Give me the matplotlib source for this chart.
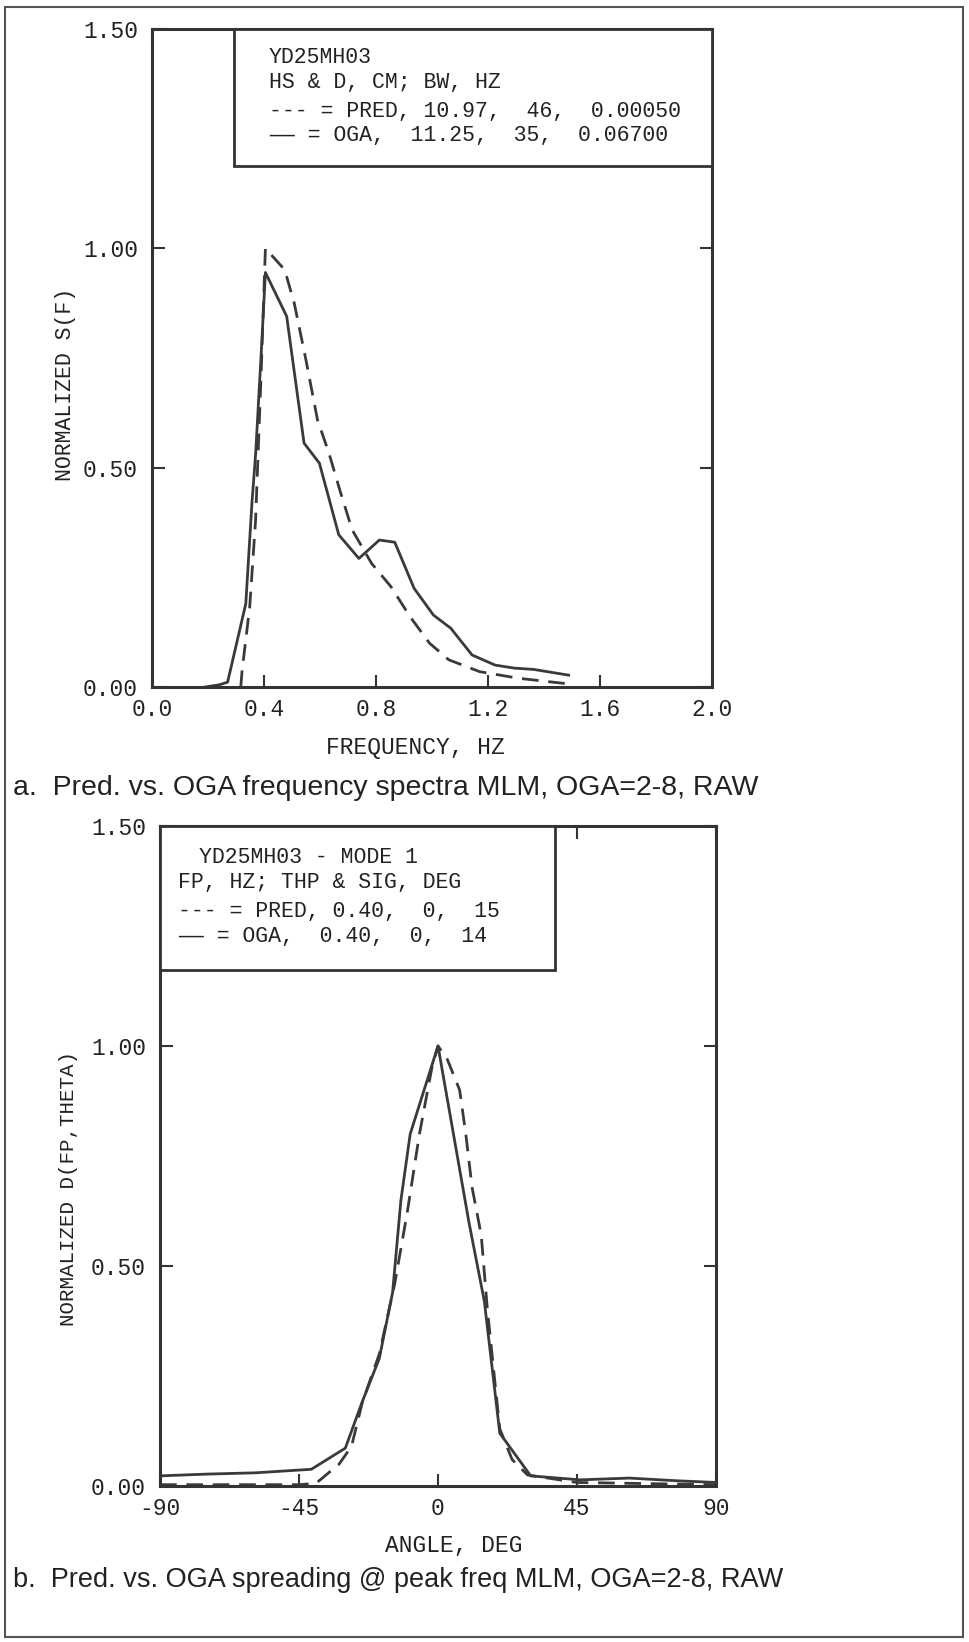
import matplotlib
matplotlib.use("Agg")
import matplotlib.pyplot as plt
from matplotlib.patches import Rectangle

# Panel a: frequency spectra
freq_oga = [0.19, 0.24, 0.27, 0.335, 0.357, 0.37, 0.39, 0.405, 0.481, 0.543, 0.598, 0.667,
            0.739, 0.812, 0.867, 0.936, 1.005, 1.067, 1.143, 1.225, 1.294, 1.364, 1.488]
s_oga = [0.0, 0.005, 0.011, 0.19, 0.42, 0.53, 0.76, 0.945, 0.845, 0.556, 0.51, 0.347,
         0.293, 0.335, 0.33, 0.225, 0.164, 0.134, 0.073, 0.05, 0.043, 0.04, 0.027]
freq_pred = [0.317, 0.322, 0.349, 0.37, 0.39, 0.405, 0.474, 0.508, 0.55, 0.591, 0.632, 0.674,
             0.715, 0.784, 0.853, 0.922, 0.991, 1.06, 1.17, 1.308, 1.474]
s_pred = [0.0, 0.039, 0.183, 0.381, 0.72, 1.0, 0.951, 0.875, 0.745, 0.609, 0.533, 0.442,
          0.358, 0.282, 0.229, 0.16, 0.1, 0.062, 0.035, 0.02, 0.008]

# Panel b: directional spreading at peak frequency
ang_oga = [-90, -75, -59, -41, -30, -24.6, -19, -14.7, -12, -9, 0, 10, 15, 20, 30, 46, 62, 77, 90]
d_oga = [0.023, 0.027, 0.03, 0.038, 0.086, 0.19, 0.29, 0.44, 0.65, 0.8, 1.0, 0.6, 0.42, 0.12,
         0.023, 0.014, 0.018, 0.012, 0.008]
ang_pred = [-90, -45, -39.5, -32, -28, -24.5, -19, -14, -10, -6, -2, 0, 3, 7, 9, 11, 14, 16, 20,
            24, 29, 45, 90]
d_pred = [0.003, 0.003, 0.006, 0.05, 0.09, 0.19, 0.3, 0.46, 0.62, 0.8, 0.95, 1.0, 0.97, 0.9,
          0.8, 0.68, 0.57, 0.4, 0.13, 0.06, 0.025, 0.008, 0.003]

legend_a = ["YD25MH03", "HS & D, CM; BW, HZ",
            "--- = PRED, 10.97,  46,  0.00050",
            "\u2014\u2014 = OGA,  11.25,  35,  0.06700"]
legend_b = ["YD25MH03 - MODE 1", "FP, HZ; THP & SIG, DEG",
            "--- = PRED, 0.40,  0,  15",
            "\u2014\u2014 = OGA,  0.40,  0,  14"]

MONO = "Liberation Mono"
LC = "#3a3a3a"

fig = plt.figure(figsize=(9.69, 16.42), dpi=100)
fig.patch.set_facecolor("white")

# outer frame
fig.add_artist(Rectangle((5 / 969, 1 - 1637 / 1642), 958 / 969, 1630 / 1642,
                         transform=fig.transFigure, fill=False, lw=1.5, ec="#555555"))


def style_axes(ax, xticks, xlabels):
    for s in ax.spines.values():
        s.set_linewidth(2.2)
        s.set_color("#333333")
    ax.set_yticks([0, 0.5, 1.0, 1.5])
    ax.set_yticklabels(["0.00", "0.50", "1.00", "1.50"], fontfamily=MONO, fontsize=16.5)
    ax.set_xticks(xticks)
    ax.set_xticklabels(xlabels, fontfamily=MONO, fontsize=16.5)
    ax.tick_params(direction="in", length=9, width=1.5, top=True, right=True,
                   color="#333333", labelcolor="#222222")
    ax.tick_params(axis="y", pad=10)
    ax.tick_params(axis="x", pad=8)


# ---- panel a
ax1 = fig.add_axes([152 / 969, 1 - 687 / 1642, 560 / 969, 658 / 1642])
ax1.plot(freq_oga, s_oga, color=LC, lw=2.0)
ax1.plot(freq_pred, s_pred, color=LC, lw=2.0, dashes=(6, 3.5))
ax1.set_xlim(0, 2.0)
ax1.set_ylim(0, 1.5)
style_axes(ax1, [0, 0.4, 0.8, 1.2, 1.6, 2.0], ["0.0", "0.4", "0.8", "1.2", "1.6", "2.0"])
ax1.set_ylabel("NORMALIZED S(F)", fontfamily=MONO, fontsize=15.5, color="#222222")
ax1.yaxis.set_label_coords(-0.135, 0.46)
ax1.set_xlabel("FREQUENCY, HZ", fontfamily=MONO, fontsize=16.5, color="#222222")
ax1.xaxis.set_label_coords(0.47, -0.074)
ax1.add_patch(Rectangle((82 / 560, 1 - 137 / 658), 478 / 560, 137 / 658,
                        transform=ax1.transAxes, fill=True, fc="white", ec="#333333",
                        lw=2.0, zorder=3))
for txt, yy in zip(legend_a, [0.956, 0.919, 0.875, 0.838]):
    ax1.text(0.209, yy, txt, transform=ax1.transAxes, fontfamily=MONO, fontsize=15.5,
             va="center", ha="left", color="#222222", zorder=4)

fig.text(13 / 969, 1 - 788 / 1642,
         "a.  Pred. vs. OGA frequency spectra MLM, OGA=2-8, RAW",
         fontfamily="Liberation Sans", fontsize=20.5, va="center", ha="left", color="#222222")

# ---- panel b
ax2 = fig.add_axes([160 / 969, 1 - 1486 / 1642, 556 / 969, 660 / 1642])
ax2.plot(ang_oga, d_oga, color=LC, lw=2.0)
ax2.plot(ang_pred, d_pred, color=LC, lw=2.0, dashes=(6, 3.5))
ax2.set_xlim(-90, 90)
ax2.set_ylim(0, 1.5)
style_axes(ax2, [-90, -45, 0, 45, 90], ["-90", "-45", "0", "45", "90"])
ax2.set_ylabel("NORMALIZED D(FP,THETA)", fontfamily=MONO, fontsize=15, color="#222222")
ax2.yaxis.set_label_coords(-0.148, 0.45)
ax2.set_xlabel("ANGLE, DEG", fontfamily=MONO, fontsize=16.5, color="#222222")
ax2.xaxis.set_label_coords(0.529, -0.073)
ax2.add_patch(Rectangle((0, 1 - 144 / 660), 395 / 556, 144 / 660,
                        transform=ax2.transAxes, fill=True, fc="white", ec="#333333",
                        lw=2.0, zorder=3))
for i, (txt, yy) in enumerate(zip(legend_b, [0.953, 0.914, 0.870, 0.832])):
    xx = 0.070 if i == 0 else 0.032
    ax2.text(xx, yy, txt, transform=ax2.transAxes, fontfamily=MONO, fontsize=15.5,
             va="center", ha="left", color="#222222", zorder=4)

fig.text(13 / 969, 1 - 1580 / 1642,
         "b.  Pred. vs. OGA spreading @ peak freq MLM, OGA=2-8, RAW",
         fontfamily="Liberation Sans", fontsize=19.5, va="center", ha="left", color="#222222")

fig.savefig("out.png", dpi=100)
